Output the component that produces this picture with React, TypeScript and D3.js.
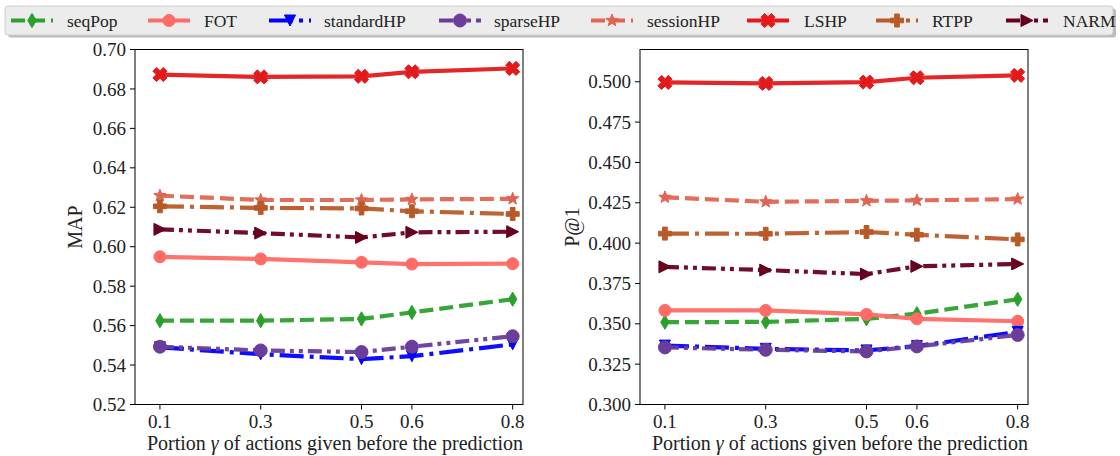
import React from "react";
import * as d3 from "d3";

const gammas = [0.1, 0.3, 0.5, 0.6, 0.8];
const xTickLabels = ["0.1", "0.3", "0.5", "0.6", "0.8"];

const seriesNames = ["seqPop", "FOT", "standardHP", "sparseHP", "sessionHP", "LSHP", "RTPP", "NARM"];

// MAP values
const mapSeqPop = [0.5625, 0.5625, 0.5634, 0.5667, 0.5734];
const mapFOT = [0.5949, 0.5938, 0.5921, 0.5912, 0.5914];
const mapStandardHP = [0.549, 0.5455, 0.543, 0.5445, 0.5505];
const mapSparseHP = [0.5493, 0.5474, 0.5466, 0.5493, 0.5546];
const mapSessionHP = [0.6259, 0.6237, 0.6237, 0.624, 0.6243];
const mapLSHP = [0.6873, 0.6861, 0.6864, 0.6887, 0.6904];
const mapRTPP = [0.6205, 0.6197, 0.6194, 0.618, 0.6166];
const mapNARM = [0.6088, 0.6069, 0.6047, 0.6073, 0.6076];

// P@1 values
const pSeqPop = [0.351, 0.3512, 0.3531, 0.3563, 0.3652];
const pFOT = [0.3583, 0.3583, 0.3558, 0.3531, 0.3516];
const pStandardHP = [0.3365, 0.3345, 0.3335, 0.3362, 0.345];
const pSparseHP = [0.3354, 0.3339, 0.3329, 0.336, 0.3431];
const pSessionHP = [0.4284, 0.4256, 0.4262, 0.4265, 0.4273];
const pLSHP = [0.4996, 0.499, 0.4998, 0.5025, 0.504];
const pRTPP = [0.4059, 0.4058, 0.4069, 0.4052, 0.4023];
const pNARM = [0.3853, 0.3833, 0.3808, 0.3856, 0.3871];

const mapTicks = [0.52, 0.54, 0.56, 0.58, 0.6, 0.62, 0.64, 0.66, 0.68, 0.7];
const pTicks = [0.3, 0.325, 0.35, 0.375, 0.4, 0.425, 0.45, 0.475, 0.5];

const colors = ["#2ca02c", "#ff6b66", "#0000ff", "#6a3d9a", "#df6552", "#e31a1c", "#b85a28", "#67001f"];
const markers = ["thin_diamond", "circle", "tri_down", "circle", "star", "X", "P", "tri_right"];
const dashes = ["14,6", "none", "24,6,4,6", "14,5,4,5,4,5", "14,6", "none", "24,6,4,6", "14,5,4,5,4,5"];

const FONT = "Liberation Serif, Times New Roman, DejaVu Serif, serif";

function markerPath(kind: string, s: number): string {
  const h = s / 2;
  if (kind === "circle") {
    const p = d3.path();
    p.arc(0, 0, h, 0, Math.PI * 2);
    return p.toString();
  }
  if (kind === "thin_diamond") {
    return `M0,${-h * 1.1}L${h * 0.65},0L0,${h * 1.1}L${-h * 0.65},0Z`;
  }
  if (kind === "tri_down") {
    return `M0,${h}L${-h},${-h}L${h},${-h}Z`;
  }
  if (kind === "tri_right") {
    return `M${h},0L${-h},${-h}L${-h},${h}Z`;
  }
  if (kind === "star") {
    const pts: string[] = [];
    for (let i = 0; i < 10; i++) {
      const r = i % 2 === 0 ? h : h * 0.42;
      const a = -Math.PI / 2 + (i * Math.PI) / 5;
      pts.push(`${r * Math.cos(a)},${r * Math.sin(a)}`);
    }
    return "M" + pts.join("L") + "Z";
  }
  if (kind === "P" || kind === "X") {
    const w = h * 0.36;
    const base: [number, number][] = [
      [-w, -h], [w, -h], [w, -w], [h, -w], [h, w], [w, w], [w, h], [-w, h], [-w, w], [-h, w], [-h, -w], [-w, -w],
    ];
    let pts = base;
    if (kind === "X") {
      const c = Math.cos(Math.PI / 4), sn = Math.sin(Math.PI / 4);
      pts = base.map(([x, y]) => [(x * c - y * sn) * 1.05, (x * sn + y * c) * 1.05] as [number, number]);
    }
    return "M" + pts.map((p) => `${p[0]},${p[1]}`).join("L") + "Z";
  }
  return "";
}

const markerSizes = [13, 12, 11, 13, 13, 14, 13, 12];

type PanelProps = {
  x0: number;
  x1: number;
  y0: number;
  y1: number;
  yDomain: [number, number];
  yTicks: number[];
  tickFmt: (v: number) => string;
  yLabel: string;
  yLabelX: number;
  data: number[][];
};

function Panel({ x0, x1, y0, y1, yDomain, yTicks, tickFmt, yLabel, yLabelX, data }: PanelProps) {
  const xs = d3.scaleLinear().domain([0.0505, 0.8205]).range([x0, x1]);
  const ys = d3.scaleLinear().domain(yDomain).range([y1, y0]);
  const line = d3
    .line<number>()
    .x((_, i) => xs(gammas[i]))
    .y((d) => ys(d));
  return (
    <g>
      {data.map((vals, si) => (
        <g key={si}>
          <path
            d={line(vals) || ""}
            fill="none"
            stroke={colors[si]}
            strokeWidth={4.2}
            strokeDasharray={dashes[si] === "none" ? undefined : dashes[si]}
            strokeOpacity={0.95}
          />
          {vals.map((v, i) => (
            <path
              key={i}
              transform={`translate(${xs(gammas[i])},${ys(v)})`}
              d={markerPath(markers[si], markerSizes[si])}
              fill={colors[si]}
              stroke={colors[si]}
              strokeWidth={1}
            />
          ))}
        </g>
      ))}
      <rect x={x0} y={y0} width={x1 - x0} height={y1 - y0} fill="none" stroke="#000" strokeWidth={1} />
      {yTicks.map((t) => (
        <g key={t}>
          <line x1={x0 - 5} x2={x0} y1={ys(t)} y2={ys(t)} stroke="#000" strokeWidth={1} />
          <text x={x0 - 9} y={ys(t)} dy="0.35em" textAnchor="end" fontSize={19} fontFamily={FONT} fill="#222">
            {tickFmt(t)}
          </text>
        </g>
      ))}
      {gammas.map((g, i) => (
        <g key={g}>
          <line x1={xs(g)} x2={xs(g)} y1={y1} y2={y1 + 5} stroke="#000" strokeWidth={1} />
          <text x={xs(g)} y={y1 + 23} textAnchor="middle" fontSize={19} fontFamily={FONT} fill="#222">
            {xTickLabels[i]}
          </text>
        </g>
      ))}
      <text
        x={(x0 + x1) / 2 + 6}
        y={450}
        textAnchor="middle"
        fontSize={20}
        fontFamily={FONT}
        fill="#222"
      >
        Portion <tspan fontStyle="italic">γ</tspan> of actions given before the prediction
      </text>
      <text
        transform={`translate(${yLabelX},${(y0 + y1) / 2}) rotate(-90)`}
        textAnchor="middle"
        fontSize={20}
        fontFamily={FONT}
        fill="#222"
      >
        {yLabel}
      </text>
    </g>
  );
}

const legendHandleX = [11, 148, 269, 439, 591, 747, 876, 1006];
const legendTextX = [67, 204, 324, 494, 647, 804, 932, 1063];

export default function App() {
  const mapData = [mapSeqPop, mapFOT, mapStandardHP, mapSparseHP, mapSessionHP, mapLSHP, mapRTPP, mapNARM];
  const pData = [pSeqPop, pFOT, pStandardHP, pSparseHP, pSessionHP, pLSHP, pRTPP, pNARM];
  const ly = 20.5;
  return (
    <svg
      width={1120}
      height={456}
      style={{ position: "absolute", left: 0, top: 0, background: "#fff", fontFamily: FONT }}
    >
      <Panel
        x0={135}
        x1={523}
        y0={49.5}
        y1={404.5}
        yDomain={[0.52, 0.7]}
        yTicks={mapTicks}
        tickFmt={(v) => v.toFixed(2)}
        yLabel="MAP"
        yLabelX={82}
        data={mapData}
      />
      <Panel
        x0={640}
        x1={1028}
        y0={49.5}
        y1={404.5}
        yDomain={[0.3, 0.52]}
        yTicks={pTicks}
        tickFmt={(v) => v.toFixed(3)}
        yLabel="P@1"
        yLabelX={579}
        data={pData}
      />
      {/* legend */}
      <rect x={8} y={8.5} width={1108} height={29} rx={3} fill="#8f8f8f" opacity={0.6} />
      <rect x={5} y={6} width={1108} height={29} rx={3} fill="#ececec" stroke="#cfcfcf" strokeWidth={1} />
      {seriesNames.map((name, i) => (
        <g key={name}>
          <line
            x1={legendHandleX[i]}
            x2={legendHandleX[i] + 42}
            y1={ly}
            y2={ly}
            stroke={colors[i]}
            strokeWidth={4.2}
            strokeDasharray={dashes[i] === "none" ? undefined : dashes[i]}
          />
          <path
            transform={`translate(${legendHandleX[i] + 21},${ly})`}
            d={markerPath(markers[i], markerSizes[i])}
            fill={colors[i]}
            stroke={colors[i]}
            strokeWidth={1}
          />
          <text x={legendTextX[i]} y={ly} dy="0.35em" fontSize={17.5} fontFamily={FONT} fill="#222">
            {name}
          </text>
        </g>
      ))}
    </svg>
  );
}
